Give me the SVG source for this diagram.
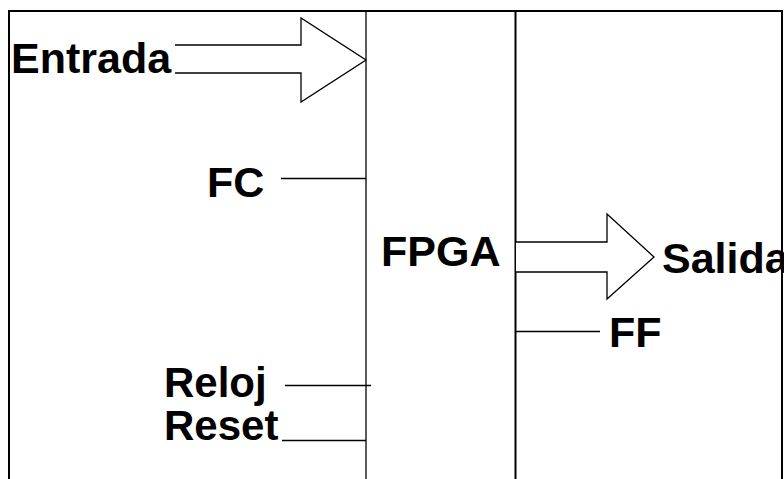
<svg xmlns="http://www.w3.org/2000/svg" width="784" height="479" viewBox="0 0 784 479">
<style>
.t{font-family:"Liberation Sans",Arial,sans-serif;font-weight:bold;font-size:43px;fill:#000}
.b{stroke:#000;stroke-width:2;fill:none}
.l{stroke:#000;stroke-width:1.3;fill:none}
.a{stroke:#000;stroke-width:1.3;fill:#fff;stroke-linejoin:miter}
</style>
<rect width="784" height="479" fill="#fff"/>
<g id="frame">
<path class="b" d="M9,479 V11 H782 V479"/>
</g>
<g id="fpga">
<line class="l" x1="366" y1="11" x2="366" y2="479"/>
<line class="b" x1="515.5" y1="11" x2="515.5" y2="479"/>
<text class="t" x="381" y="266">FPGA</text>
</g>
<g id="entrada">
<text class="t" x="11" y="73">Entrada</text>
</g>
<g id="fc">
<text class="t" x="207" y="197">FC</text>
</g>
<g id="reloj">
<text class="t" x="164" y="397" style="font-size:42px">Reloj</text>
</g>
<g id="reset">
<text class="t" x="164" y="440" style="font-size:42px">Reset</text>
</g>
<g id="salida">
<text class="t" x="662" y="273">Salida</text>
</g>
<g id="ff">
<text class="t" x="609" y="347">FF</text>
</g>
<g id="connectors">
<path class="a" d="M175,45 H301 V18 L366,60 L301,102 V73 H175"/>
<path class="a" d="M516,242 H607 V214 L654,257 L607,299 V272 H516"/>
<line class="l" x1="281" y1="178.5" x2="366" y2="178.5"/>
<line class="l" x1="285" y1="385.5" x2="371" y2="385.5"/>
<line class="l" x1="282" y1="440.5" x2="366" y2="440.5"/>
<line class="l" x1="516" y1="331.5" x2="600" y2="331.5"/>
</g>
</svg>
